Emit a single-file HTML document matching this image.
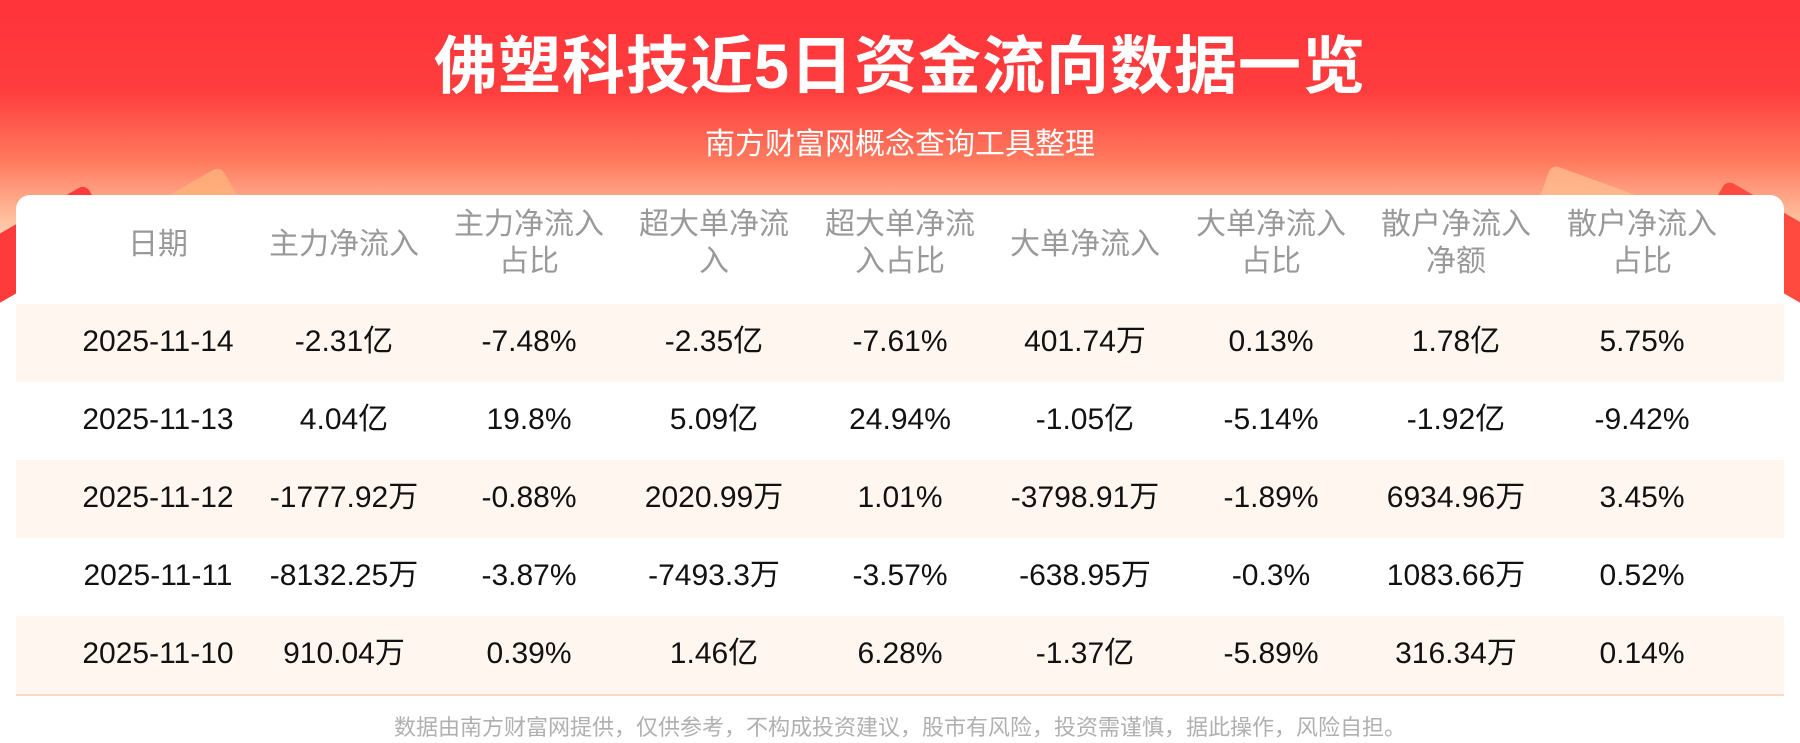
<!DOCTYPE html>
<html><head><meta charset="utf-8"><style>
*{margin:0;padding:0;box-sizing:border-box}
body{width:1800px;height:743px;overflow:hidden;background:#fff;font-family:"Liberation Sans","Noto Sans CJK SC",sans-serif;position:relative}
.bg{position:absolute;left:0;top:0;width:1800px;height:260px;background:linear-gradient(180deg,#ff333b 0%,#ff3d3d 35%,#ff7a5e 62%,#ffc2a0 85%,#ffe3cf 100%)}
.title{position:absolute;top:24px;width:1800px;text-align:center;color:#fff;font-size:63px;line-height:86px;font-weight:bold;letter-spacing:1px}
.sub{position:absolute;top:125px;width:1800px;text-align:center;color:#fff;font-size:30px;line-height:40px}
.card{position:absolute;left:16px;top:195px;width:1768px;height:548px;background:#fff;border-radius:14px 14px 0 0}
.c{position:absolute;width:200px;text-align:center;white-space:nowrap}
.h{color:#999;font-size:30px;line-height:37px}
.d{font-size:30px;line-height:40px;height:40px;color:#111}
.d span{vertical-align:top}
.row{position:absolute;left:16px;width:1768px;height:78px}
.alt{background:#fff6f0}
.line{position:absolute;left:16px;width:1768px;top:694px;height:2px;background:#fbd9c3}
.foot{position:absolute;top:713px;width:1800px;text-align:center;color:#b0b0b0;font-size:22px;line-height:30px}
.blob{position:absolute;border-radius:8px;transform:rotate(-30deg)}
</style></head><body>
<div class="bg"></div>
<div class="blob" style="left:-30px;top:215px;width:140px;height:60px;background:#ff3a3a"></div>
<div class="blob" style="left:130px;top:190px;width:110px;height:50px;background:#ffb27a;opacity:.8"></div>
<div class="blob" style="left:1700px;top:210px;width:140px;height:70px;background:#ff4a40;transform:rotate(30deg)"></div>
<div class="blob" style="left:1540px;top:180px;width:100px;height:50px;background:#ffc090;opacity:.7;transform:rotate(20deg)"></div>
<div class="title">佛塑科技近5日资金流向数据一览</div>
<div class="sub">南方财富网概念查询工具整理</div>
<div class="card"></div>
<div class="row alt" style="top:304px"></div>
<div class="row alt" style="top:460px"></div>
<div class="row alt" style="top:616px"></div>
<div id="t"></div>
<div class="line"></div>
<div class="foot">数据由南方财富网提供，仅供参考，不构成投资建议，股市有风险，投资需谨慎，据此操作，风险自担。</div>
<script>
var xs=[158,344,529,714,900,1085,1271,1456,1642];
var hd=[["日期"],["主力净流入"],["主力净流入","占比"],["超大单净流","入"],["超大单净流","入占比"],["大单净流入"],["大单净流入","占比"],["散户净流入","净额"],["散户净流入","占比"]];
var rows=[
["2025-11-14","-2.31亿","-7.48%","-2.35亿","-7.61%","401.74万","0.13%","1.78亿","5.75%"],
["2025-11-13","4.04亿","19.8%","5.09亿","24.94%","-1.05亿","-5.14%","-1.92亿","-9.42%"],
["2025-11-12","-1777.92万","-0.88%","2020.99万","1.01%","-3798.91万","-1.89%","6934.96万","3.45%"],
["2025-11-11","-8132.25万","-3.87%","-7493.3万","-3.57%","-638.95万","-0.3%","1083.66万","0.52%"],
["2025-11-10","910.04万","0.39%","1.46亿","6.28%","-1.37亿","-5.89%","316.34万","0.14%"]];
var h="";
for(var i=0;i<9;i++){var t=hd[i].length==1?226:206;h+='<div class="c h" style="left:'+(xs[i]-100)+'px;top:'+t+'px">'+hd[i].join("<br>")+'</div>';}
for(var r=0;r<5;r++)for(var i=0;i<9;i++){h+='<div class="c d" style="left:'+(xs[i]-100)+'px;top:'+(322+r*78)+'px"><span>'+rows[r][i]+'</span></div>';}
document.getElementById("t").innerHTML=h;
</script>
</body></html>
